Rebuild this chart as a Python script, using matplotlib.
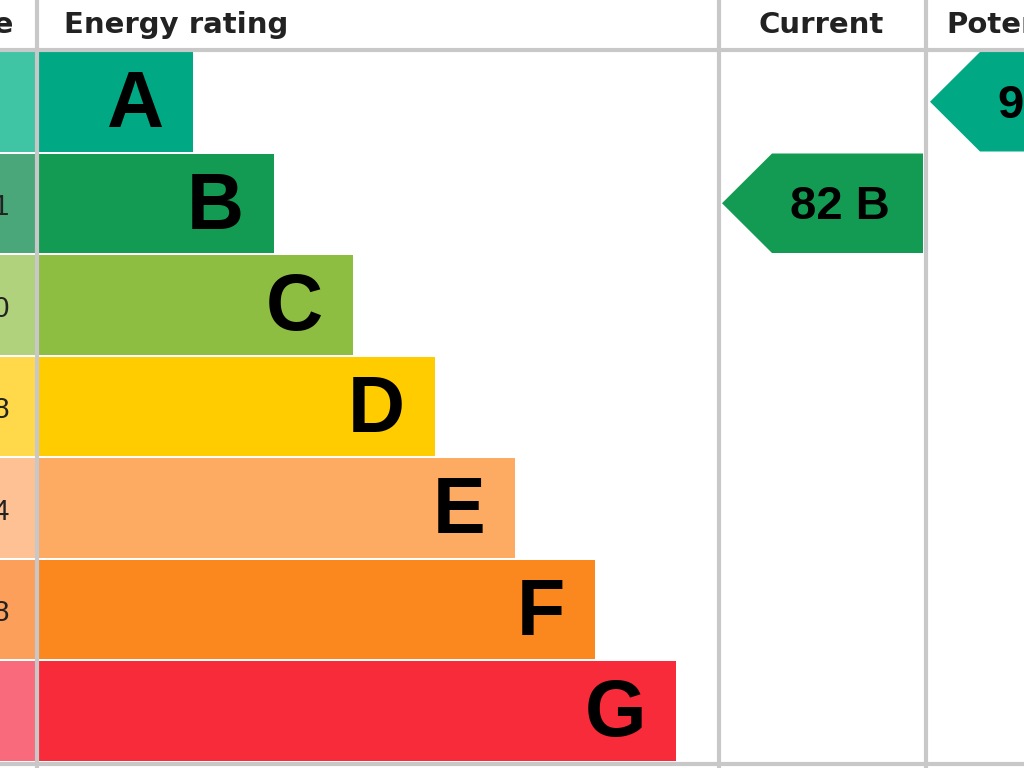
import matplotlib
matplotlib.use("Agg")
import matplotlib.pyplot as plt
from matplotlib.patches import Rectangle, Polygon

# EPC bands (picture is cropped on both sides)
bands = ["A", "B", "C", "D", "E", "F", "G"]
score_labels = ["", "81-91", "69-80", "55-68", "39-54", "21-38", ""]
band_right = [193, 274, 353, 435, 515, 595, 676]
band_colors = ["#00a884", "#149b53", "#8dbd41", "#ffcc00", "#fdaa63", "#fb871f", "#f82b3a"]
score_colors = ["#3fc4a4", "#4aa779", "#b0d27c", "#ffd94a", "#fdc193", "#fb9f5a", "#f96a7c"]
current = (82, "B")
potential = (92, "A")

plt.rcParams['font.family'] = ['Liberation Sans', 'DejaVu Sans']
fig = plt.figure(figsize=(10.24, 7.68), dpi=100)
ax = fig.add_axes([0, 0, 1, 1])
ax.set_xlim(0, 1024)
ax.set_ylim(768, 0)
ax.axis("off")

top, row_h = 52, 101.5
grey = "#c8c8c8"

for i, b in enumerate(bands):
    y0 = top + i * row_h
    h = row_h - 2
    ax.add_patch(Rectangle((0, y0), 36, h, color=score_colors[i], lw=0))
    ax.add_patch(Rectangle((37, y0), band_right[i] - 37, h, color=band_colors[i], lw=0))
    ax.text(band_right[i] - 30, y0 + h / 2 + 5, b, ha="right", va="center",
            fontsize=57, fontweight="heavy", color="black")
    if score_labels[i]:
        ax.text(10, y0 + h / 2 + 4, score_labels[i], ha="right", va="center",
                fontsize=21, color="#222222")

# header + grid lines
hdr = dict(va="center", fontsize=21, fontweight="bold", color="#222222", family="DejaVu Sans")
ax.text(14, 25, "Score", ha="right", **hdr)
ax.text(64, 25, "Energy rating", ha="left", **hdr)
ax.text(821, 25, "Current", ha="center", **hdr)
ax.text(946, 25, "Potential", ha="left", **hdr)
ax.plot([0, 1024], [50, 50], color=grey, lw=3)
ax.plot([0, 1024], [764, 764], color=grey, lw=3)
for x in [37, 719, 926]:
    ax.plot([x, x], [0, 768], color=grey, lw=3)


def arrow(x0, x1, value, band):
    i = bands.index(band)
    y0 = top + i * row_h
    h = row_h - 2
    pts = [(x0, y0 + h / 2), (x0 + 50, y0), (x1, y0), (x1, y0 + h), (x0 + 50, y0 + h)]
    ax.add_patch(Polygon(pts, closed=True, color=band_colors[i], lw=0))
    ax.text(x0 + 68, y0 + h / 2 + 4, f"{value} {band}", ha="left", va="center",
            fontsize=34, fontweight="bold", color="black")


arrow(722, 923, *current)
arrow(930, 1131, *potential)

fig.savefig("out.png", dpi=100)
